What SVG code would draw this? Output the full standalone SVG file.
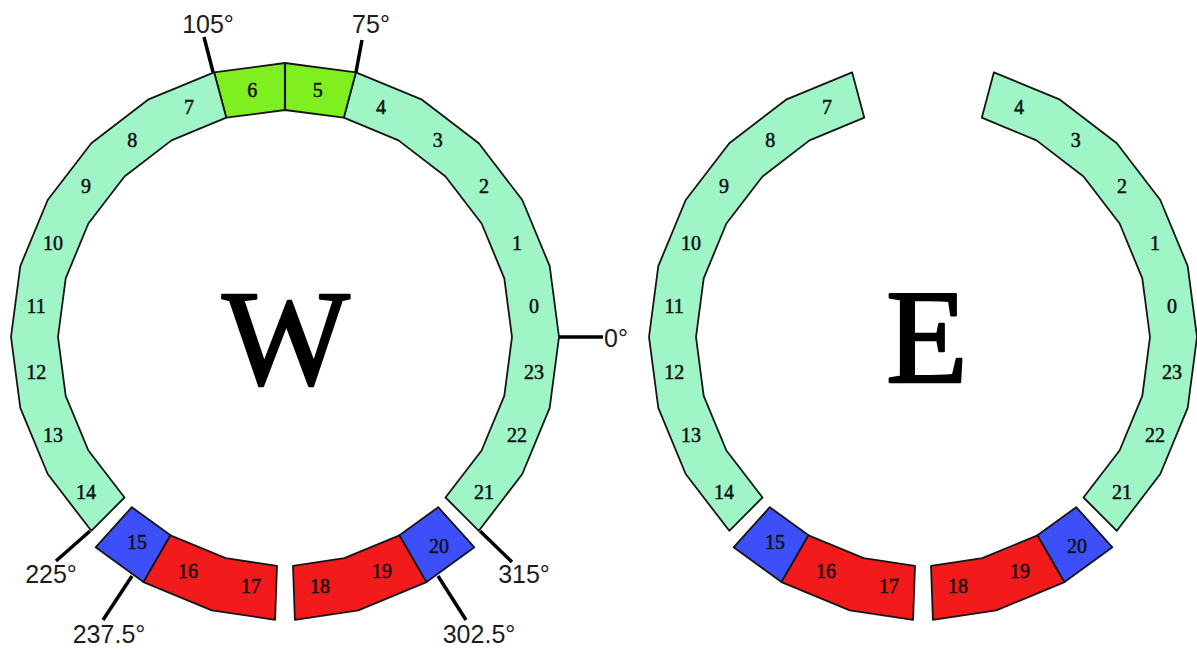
<svg xmlns="http://www.w3.org/2000/svg" width="1197" height="652" viewBox="0 0 1197 652">
  <style>
    .mint { fill: #9ff5c6; stroke: #151515; stroke-width: 1.8; stroke-linejoin: round; }
    .lime { fill: #7fef1f; stroke: #151515; stroke-width: 1.8; stroke-linejoin: round; }
    .blue { fill: #3c4ff8; stroke: #151515; stroke-width: 1.8; stroke-linejoin: round; }
    .red  { fill: #f21a1a; stroke: #151515; stroke-width: 1.8; stroke-linejoin: round; }
    .num  { font-family: "Liberation Serif", "Times New Roman", serif; font-size: 20px; fill: #111; stroke: #111; stroke-width: 0.5; text-anchor: middle; }
    .deg  { font-family: "Liberation Sans", Arial, sans-serif; font-size: 25px; fill: #1c1c1c; text-anchor: middle; }
    .big  { font-family: "Liberation Serif", "Times New Roman", serif; fill: #000; stroke: #000; stroke-width: 2.5; stroke-linejoin: round; text-anchor: middle; }
    .tick { stroke: #000; stroke-width: 3.5; stroke-linecap: butt; fill: none; }
  </style>

  <!-- West ring: 24 sectors of 15 degrees, centre (285,337) -->
  <g id="ring-w">
    <g id="w-sectors-21-4">
      <polygon class="mint" points="478.8,530.8 522.3,474 549.7,407.9 559,337 549.7,266.1 522.3,200 478.8,143.3 422,99.7 355.9,72.3 343.8,117.7 398.5,140.4 445.5,176.5 481.6,223.5 504.3,278.3 512,337 504.3,395.8 481.6,450.5 445.5,497.5"/>
      <text class="num" x="484.1" y="499">21</text>
      <text class="num" x="516.9" y="442">22</text>
      <text class="num" x="533.9" y="379">23</text>
      <text class="num" x="533.9" y="313">0</text>
      <text class="num" x="516.9" y="250">1</text>
      <text class="num" x="484.1" y="193">2</text>
      <text class="num" x="437.8" y="147">3</text>
      <text class="num" x="381.1" y="114">4</text>
    </g>
    <g id="w-sectors-5-6">
      <polygon class="lime" points="355.9,72.3 285,63 214.1,72.3 226.3,117.7 285,110 343.8,117.7"/>
      <line x1="285" y1="63" x2="285" y2="110" stroke="#151515" stroke-width="2.2"/>
      <text class="num" x="317.8" y="97">5</text>
      <text class="num" x="252.2" y="97">6</text>
    </g>
    <g id="w-sectors-7-14">
      <polygon class="mint" points="214.1,72.3 148,99.7 91.3,143.3 47.7,200 20.3,266.1 11,337 20.3,407.9 47.7,474 91.3,530.8 124.5,497.5 88.4,450.5 65.7,395.8 58,337 65.7,278.3 88.4,223.5 124.5,176.5 171.5,140.4 226.3,117.7"/>
      <text class="num" x="189" y="114">7</text>
      <text class="num" x="132.2" y="147">8</text>
      <text class="num" x="85.9" y="193">9</text>
      <text class="num" x="53.1" y="250">10</text>
      <text class="num" x="36.2" y="313">11</text>
      <text class="num" x="36.2" y="379">12</text>
      <text class="num" x="53.1" y="442">13</text>
      <text class="num" x="85.9" y="499">14</text>
    </g>
    <g id="w-sector-15">
      <polygon class="blue" points="95.6,547.3 143.5,582.1 170.5,535.3 131.8,507.2"/>
      <text class="num" x="137" y="549">15</text>
    </g>
    <g id="w-sectors-16-17">
      <polygon class="red" points="143.5,582.1 211.8,610.4 275.1,619.8 277,565.9 225.7,558.2 170.5,535.3"/>
      <text class="num" x="188" y="578">16</text>
      <text class="num" x="251" y="593">17</text>
    </g>
    <g id="w-sectors-18-19">
      <polygon class="red" points="294.9,619.8 358.3,610.4 426.5,582.1 399.5,535.3 344.3,558.2 293,565.9"/>
      <text class="num" x="320" y="593">18</text>
      <text class="num" x="382" y="578">19</text>
    </g>
    <g id="w-sector-20">
      <polygon class="blue" points="426.5,582.1 474.4,547.3 438.2,507.2 399.5,535.3"/>
      <text class="num" x="439" y="553">20</text>
    </g>
    <text class="big" x="286" y="384" font-size="135">W</text>
  </g>

  <!-- Angle markers on the west ring -->
  <g id="angle-ticks">
    <line class="tick" x1="213" y1="72" x2="204" y2="37"/>
    <line class="tick" x1="356" y1="72" x2="362" y2="40"/>
    <line class="tick" x1="559" y1="337" x2="603" y2="337"/>
    <line class="tick" x1="90" y1="531" x2="56" y2="561"/>
    <line class="tick" x1="132" y1="576" x2="103" y2="620"/>
    <line class="tick" x1="438" y1="576" x2="466" y2="620"/>
    <line class="tick" x1="480" y1="531" x2="512" y2="562"/>
  </g>
  <g id="angle-labels">
    <text class="deg" x="208" y="33">105°</text>
    <text class="deg" x="371" y="33">75°</text>
    <text class="deg" x="604" y="347" style="text-anchor:start">0°</text>
    <text class="deg" x="51" y="583">225°</text>
    <text class="deg" x="109" y="643">237.5°</text>
    <text class="deg" x="479" y="643">302.5°</text>
    <text class="deg" x="524" y="583">315°</text>
  </g>

  <!-- East ring: same layout, sectors 5 and 6 absent -->
  <g id="ring-e" transform="translate(638,0)">
    <g id="e-sectors-21-4">
      <polygon class="mint" points="478.8,530.8 522.3,474 549.7,407.9 559,337 549.7,266.1 522.3,200 478.8,143.3 422,99.7 355.9,72.3 343.8,117.7 398.5,140.4 445.5,176.5 481.6,223.5 504.3,278.3 512,337 504.3,395.8 481.6,450.5 445.5,497.5"/>
      <text class="num" x="484.1" y="499">21</text>
      <text class="num" x="516.9" y="442">22</text>
      <text class="num" x="533.9" y="379">23</text>
      <text class="num" x="533.9" y="313">0</text>
      <text class="num" x="516.9" y="250">1</text>
      <text class="num" x="484.1" y="193">2</text>
      <text class="num" x="437.8" y="147">3</text>
      <text class="num" x="381.1" y="114">4</text>
    </g>
    <g id="e-sectors-7-14">
      <polygon class="mint" points="214.1,72.3 148,99.7 91.3,143.3 47.7,200 20.3,266.1 11,337 20.3,407.9 47.7,474 91.3,530.8 124.5,497.5 88.4,450.5 65.7,395.8 58,337 65.7,278.3 88.4,223.5 124.5,176.5 171.5,140.4 226.3,117.7"/>
      <text class="num" x="189" y="114">7</text>
      <text class="num" x="132.2" y="147">8</text>
      <text class="num" x="85.9" y="193">9</text>
      <text class="num" x="53.1" y="250">10</text>
      <text class="num" x="36.2" y="313">11</text>
      <text class="num" x="36.2" y="379">12</text>
      <text class="num" x="53.1" y="442">13</text>
      <text class="num" x="85.9" y="499">14</text>
    </g>
    <g id="e-sector-15">
      <polygon class="blue" points="95.6,547.3 143.5,582.1 170.5,535.3 131.8,507.2"/>
      <text class="num" x="137" y="549">15</text>
    </g>
    <g id="e-sectors-16-17">
      <polygon class="red" points="143.5,582.1 211.8,610.4 275.1,619.8 277,565.9 225.7,558.2 170.5,535.3"/>
      <text class="num" x="188" y="578">16</text>
      <text class="num" x="251" y="593">17</text>
    </g>
    <g id="e-sectors-18-19">
      <polygon class="red" points="294.9,619.8 358.3,610.4 426.5,582.1 399.5,535.3 344.3,558.2 293,565.9"/>
      <text class="num" x="320" y="593">18</text>
      <text class="num" x="382" y="578">19</text>
    </g>
    <g id="e-sector-20">
      <polygon class="blue" points="426.5,582.1 474.4,547.3 438.2,507.2 399.5,535.3"/>
      <text class="num" x="439" y="553">20</text>
    </g>
    <text class="big" x="289" y="382" font-size="134">E</text>
  </g>
</svg>
